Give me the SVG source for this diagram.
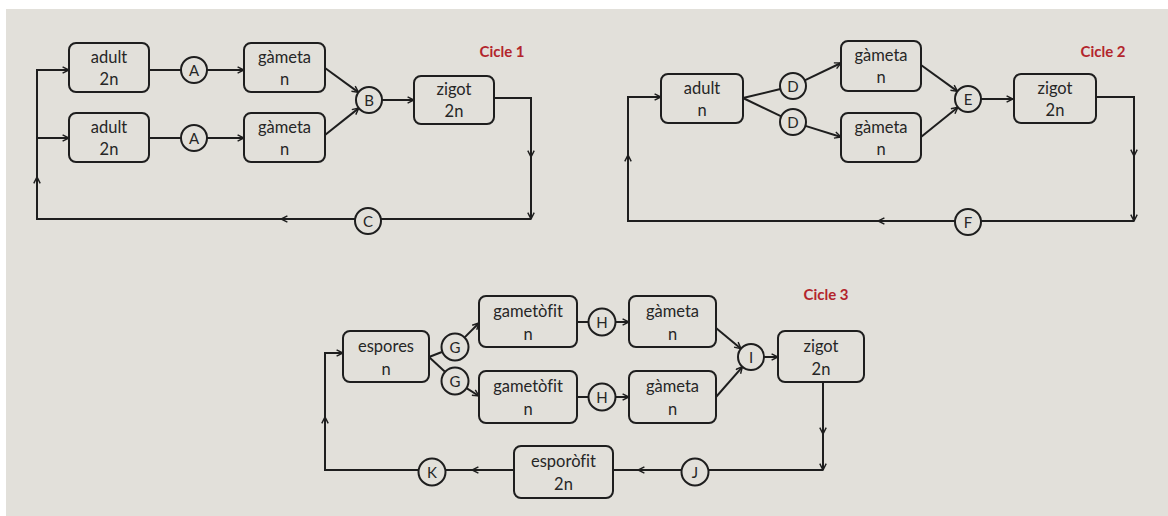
<svg xmlns="http://www.w3.org/2000/svg" width="1168" height="516" viewBox="0 0 1168 516">
  <style>
    .box { fill: #e2e0da; stroke: #1e1e1e; stroke-width: 2; }
    .ring { fill: #e2e0da; stroke: #1e1e1e; stroke-width: 2; }
    .lbl { font-family: Lato, "Liberation Sans", sans-serif; font-size: 16.5px; fill: #262626; text-anchor: middle; font-variant-ligatures: none; }
    .let { font-family: Lato, "Liberation Sans", sans-serif; font-size: 15px; fill: #262626; text-anchor: middle; }
    .ttl { font-family: Lato, "Liberation Sans", sans-serif; font-size: 15px; font-weight: bold; fill: #b3252c; text-anchor: middle; }
    .ln { fill: none; stroke: #1e1e1e; stroke-width: 2; }
    .ar { marker-end: url(#arr); }
  </style>
  <defs>
    <marker id="arr" viewBox="0 0 10 10" refX="9" refY="5" markerWidth="8" markerHeight="8" markerUnits="userSpaceOnUse" orient="auto">
      <path d="M1,1 L9,5 L1,9" fill="none" stroke="#1e1e1e" stroke-width="1.8"/>
    </marker>
  </defs>

  <!-- page background -->
  <rect x="0" y="0" width="1168" height="516" fill="#ffffff"/>
  <rect x="6" y="9" width="1162" height="507" fill="#e2e0da"/>

  <!-- connectors -->
  <g id="connectors">
    <!-- cycle 1 -->
    <path class="ln" d="M149,70 H181"/>
    <path class="ln ar" d="M207,70 H244"/>
    <path class="ln" d="M149,138 H181"/>
    <path class="ln ar" d="M207,138 H244"/>
    <path class="ln ar" d="M325,68 L358.5,92.4"/>
    <path class="ln ar" d="M325,135 L358.8,108.1"/>
    <path class="ln ar" d="M382,100 H414"/>
    <path class="ln ar" d="M494,98 H531 V157"/>
    <path class="ln ar" d="M531,157 V219"/>
    <path class="ln ar" d="M531,219 H281"/>
    <path class="ln ar" d="M281,219 H37 V177"/>
    <path class="ln ar" d="M37,177 V70 H69"/>
    <path class="ln ar" d="M37,138 H69"/>

    <!-- cycle 2 -->
    <path class="ln" d="M743,98 L780.4,89"/>
    <path class="ln" d="M743,98 L781.3,116.4"/>
    <path class="ln ar" d="M804.7,80.4 L841,63"/>
    <path class="ln ar" d="M805.4,125.9 L841,137"/>
    <path class="ln ar" d="M921,65 L957.5,91.4"/>
    <path class="ln ar" d="M921,137 L957.9,107.2"/>
    <path class="ln ar" d="M981,99 H1013"/>
    <path class="ln ar" d="M1096,97 H1134 V156"/>
    <path class="ln ar" d="M1134,156 V221"/>
    <path class="ln ar" d="M1134,221 H878"/>
    <path class="ln ar" d="M878,221 H628 V155"/>
    <path class="ln ar" d="M628,155 V97 H661"/>

    <!-- cycle 3 -->
    <path class="ln" d="M429,357 L441.9,352"/>
    <path class="ln" d="M429,357 L444.7,371.5"/>
    <path class="ln ar" d="M464.9,337.1 L479,323"/>
    <path class="ln ar" d="M466.9,388.4 L479,396"/>
    <path class="ln" d="M577,322 H588.5"/>
    <path class="ln ar" d="M615.5,322 H629"/>
    <path class="ln" d="M577,397 H588.5"/>
    <path class="ln ar" d="M615.5,397 H629"/>
    <path class="ln ar" d="M716,328 L741,348.7"/>
    <path class="ln ar" d="M716,397 L742.4,366.8"/>
    <path class="ln ar" d="M764,357 H778"/>
    <path class="ln ar" d="M823,382 V434"/>
    <path class="ln ar" d="M823,434 V470"/>
    <path class="ln ar" d="M823,470 H638"/>
    <path class="ln ar" d="M638,470 H472"/>
    <path class="ln ar" d="M472,470 H325 V417"/>
    <path class="ln ar" d="M325,417 V353 H343"/>
  </g>

  <!-- cycle 1 nodes -->
  <g id="c1-adult-a"><rect class="box" x="69" y="43" width="80" height="49" rx="7"/><text class="lbl" x="109" y="63">adult</text><text class="lbl" x="109" y="85">2n</text></g>
  <g id="c1-adult-b"><rect class="box" x="69" y="113" width="80" height="49" rx="7"/><text class="lbl" x="109" y="133">adult</text><text class="lbl" x="109" y="155">2n</text></g>
  <g id="c1-A1"><circle class="ring" cx="194" cy="70" r="13"/><text class="let" x="194" y="75.5">A</text></g>
  <g id="c1-A2"><circle class="ring" cx="194" cy="138" r="13"/><text class="let" x="194" y="143.5">A</text></g>
  <g id="c1-gameta-a"><rect class="box" x="244" y="43" width="81" height="49" rx="7"/><text class="lbl" x="284.5" y="63">gàmeta</text><text class="lbl" x="284.5" y="85">n</text></g>
  <g id="c1-gameta-b"><rect class="box" x="244" y="113" width="81" height="49" rx="7"/><text class="lbl" x="284.5" y="133">gàmeta</text><text class="lbl" x="284.5" y="155">n</text></g>
  <g id="c1-B"><circle class="ring" cx="369" cy="100" r="13"/><text class="let" x="369" y="105.5">B</text></g>
  <g id="c1-zigot"><rect class="box" x="414" y="76" width="80" height="48" rx="7"/><text class="lbl" x="454" y="95">zigot</text><text class="lbl" x="454" y="117">2n</text></g>
  <g id="c1-C"><circle class="ring" cx="368" cy="221" r="13"/><text class="let" x="368" y="226.5">C</text></g>
  <text class="ttl" x="502" y="57">Cicle 1</text>

  <!-- cycle 2 nodes -->
  <g id="c2-adult"><rect class="box" x="661" y="74" width="82" height="49" rx="7"/><text class="lbl" x="702" y="94">adult</text><text class="lbl" x="702" y="116">n</text></g>
  <g id="c2-D1"><circle class="ring" cx="793" cy="86" r="13"/><text class="let" x="793" y="91.5">D</text></g>
  <g id="c2-D2"><circle class="ring" cx="793" cy="122" r="13"/><text class="let" x="793" y="127.5">D</text></g>
  <g id="c2-gameta-a"><rect class="box" x="841" y="41" width="80" height="50" rx="7"/><text class="lbl" x="881" y="61">gàmeta</text><text class="lbl" x="881" y="83">n</text></g>
  <g id="c2-gameta-b"><rect class="box" x="841" y="113" width="80" height="49" rx="7"/><text class="lbl" x="881" y="133">gàmeta</text><text class="lbl" x="881" y="155">n</text></g>
  <g id="c2-E"><circle class="ring" cx="968" cy="99" r="13"/><text class="let" x="968" y="104.5">E</text></g>
  <g id="c2-zigot"><rect class="box" x="1014" y="74" width="82" height="49" rx="7"/><text class="lbl" x="1055" y="94">zigot</text><text class="lbl" x="1055" y="116">2n</text></g>
  <g id="c2-F"><circle class="ring" cx="968" cy="222" r="13"/><text class="let" x="968" y="227.5">F</text></g>
  <text class="ttl" x="1103" y="57">Cicle 2</text>

  <!-- cycle 3 nodes -->
  <g id="c3-espores"><rect class="box" x="343" y="331" width="86" height="51" rx="7"/><text class="lbl" x="386" y="352">espores</text><text class="lbl" x="386" y="375">n</text></g>
  <g id="c3-G1"><circle class="ring" cx="455" cy="347" r="13.5"/><text class="let" x="455" y="352.5">G</text></g>
  <g id="c3-G2"><circle class="ring" cx="455" cy="381" r="13.5"/><text class="let" x="455" y="386.5">G</text></g>
  <g id="c3-gametofit-a"><rect class="box" x="479" y="296" width="98" height="51" rx="7"/><text class="lbl" x="528" y="317">gametòfit</text><text class="lbl" x="528" y="340">n</text></g>
  <g id="c3-gametofit-b"><rect class="box" x="479" y="371" width="98" height="52" rx="7"/><text class="lbl" x="528" y="392">gametòfit</text><text class="lbl" x="528" y="415">n</text></g>
  <g id="c3-H1"><circle class="ring" cx="602" cy="322" r="13.5"/><text class="let" x="602" y="327.5">H</text></g>
  <g id="c3-H2"><circle class="ring" cx="602" cy="397" r="13.5"/><text class="let" x="602" y="402.5">H</text></g>
  <g id="c3-gameta-a"><rect class="box" x="629" y="296" width="87" height="51" rx="7"/><text class="lbl" x="672.5" y="317">gàmeta</text><text class="lbl" x="672.5" y="340">n</text></g>
  <g id="c3-gameta-b"><rect class="box" x="629" y="371" width="87" height="52" rx="7"/><text class="lbl" x="672.5" y="392">gàmeta</text><text class="lbl" x="672.5" y="415">n</text></g>
  <g id="c3-I"><circle class="ring" cx="751" cy="357" r="13"/><text class="let" x="751" y="362.5">I</text></g>
  <g id="c3-zigot"><rect class="box" x="778" y="331" width="86" height="51" rx="7"/><text class="lbl" x="821" y="352">zigot</text><text class="lbl" x="821" y="375">2n</text></g>
  <g id="c3-J"><circle class="ring" cx="695" cy="472" r="13.5"/><text class="let" x="695" y="477.5">J</text></g>
  <g id="c3-esporofit"><rect class="box" x="514" y="446" width="99" height="52" rx="7"/><text class="lbl" x="563.5" y="467">esporòfit</text><text class="lbl" x="563.5" y="490">2n</text></g>
  <g id="c3-K"><circle class="ring" cx="432" cy="472" r="13.5"/><text class="let" x="432" y="477.5">K</text></g>
  <text class="ttl" x="826" y="300">Cicle 3</text>
</svg>
